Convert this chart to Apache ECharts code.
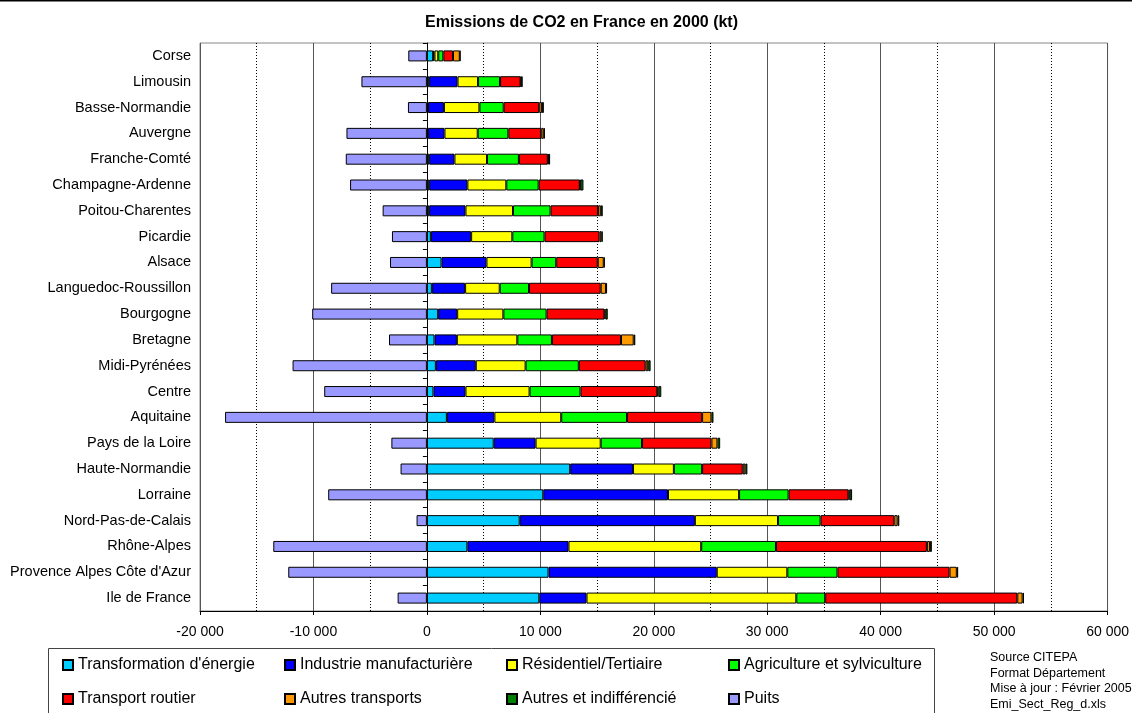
<!DOCTYPE html>
<html>
<head>
<meta charset="utf-8">
<script src="https://cdn.jsdelivr.net/npm/echarts@6/dist/echarts.min.js"></script>
<style>
html,body{margin:0;padding:0;background:#fff;}
#chart{width:1132px;height:713px;}
</style>
</head>
<body>
<div id="chart"></div>
<script>
var categories = ['Corse','Limousin','Basse-Normandie','Auvergne','Franche-Comté','Champagne-Ardenne','Poitou-Charentes','Picardie','Alsace','Languedoc-Roussillon','Bourgogne','Bretagne','Midi-Pyrénées','Centre','Aquitaine','Pays de la Loire','Haute-Normandie','Lorraine','Nord-Pas-de-Calais','Rhône-Alpes',"Provence Alpes Côte d'Azur",'Ile de France'];

var energie      = [550,200,100,80,200,200,200,350,1290,440,990,670,790,580,1760,5890,12630,10260,8180,3570,10720,9910];
var industrie    = [120,2500,1400,1470,2230,3370,3200,3550,3960,2930,1680,1970,3520,2820,4190,3690,5540,10990,15440,8910,14830,4160];
var residentiel  = [330,1810,3130,2930,2870,3430,4190,3630,3980,3050,4070,5330,4390,5650,5890,5740,3600,6270,7330,11700,6220,18490];
var agriculture  = [450,1940,2140,2700,2810,2850,3310,2840,2170,2580,3810,3050,4690,4490,5800,3640,2490,4360,3750,6590,4420,2550];
var transport    = [850,1810,3130,2900,2550,3630,4190,4840,3660,6320,5100,6090,5890,6770,6620,6120,3580,5280,6500,13300,9880,16930];
var autresTransp = [600,60,240,220,80,50,240,170,530,470,90,1120,230,100,820,530,230,100,290,270,640,470];
var autresIndiff = [50,120,170,100,120,270,170,120,90,90,200,140,210,250,180,240,180,220,150,170,120,120];
var puits        = [-1640,-5770,-1670,-7090,-7150,-6770,-3900,-3080,-3250,-8440,-10110,-3340,-11840,-9050,-17790,-3130,-2320,-8700,-910,-13540,-12220,-2580];

var seriesNames = ["Transformation d'énergie","Industrie manufacturière","Résidentiel/Tertiaire","Agriculture et sylviculture","Transport routier","Autres transports","Autres et indifférencié","Puits"];
var seriesColors = ['#00CCFF','#0000FF','#FFFF00','#00FF00','#FF0000','#FF9900','#008000','#9999FF'];
var seriesData = [energie,industrie,residentiel,agriculture,transport,autresTransp,autresIndiff,puits];

var xMin = -20000, xMax = 60000, xInterval = 10000;
var sourceLines = ['Source CITEPA','Format Département','Mise à jour : Février 2005','Emi_Sect_Reg_d.xls'];

var FONT = '"Liberation Sans", Arial, sans-serif';

function fmt(v){
  var s = String(Math.abs(v));
  s = s.replace(/\B(?=(\d{3})+(?!\d))/g, ' ');
  return (v < 0 ? '-' : '') + s;
}

var series = seriesNames.map(function(n,i){
  return {
    name: n, type: 'bar', stack: 'total', yAxisIndex: 0,
    data: seriesData[i], barWidth: 11,
    itemStyle: {color: seriesColors[i], borderColor: '#000', borderWidth: 1},
    emphasis: {disabled: true}
  };
});

var legendCols = [62, 284, 506, 728];
var legendRows = [657, 691];
var legends = seriesNames.map(function(n,i){
  return {
    show: true, orient: 'horizontal',
    left: legendCols[i % 4], top: legendRows[Math.floor(i / 4)],
    padding: 0, itemWidth: 10, itemHeight: 10, icon: 'rect',
    data: [n], selectedMode: false,
    textStyle: {fontFamily: FONT, fontSize: 16, color: '#000', lineHeight: 16}
  };
});

var chart = echarts.init(document.getElementById('chart'), null, {renderer: 'canvas'});
chart.setOption({
  animation: false,
  backgroundColor: '#fff',
  title: {
    text: 'Emissions de CO2 en France en 2000 (kt)',
    left: 425, top: 15, padding: 0,
    textStyle: {fontFamily: FONT, fontSize: 16, fontWeight: 'bold', color: '#000'}
  },
  legend: legends,
  grid: {left: 200, right: 22, top: 43, bottom: 102, show: true, borderColor: '#888', borderWidth: 1, backgroundColor: '#fff'},
  xAxis: {
    type: 'value', min: xMin, max: xMax, interval: xInterval,
    axisLine: {show: true, lineStyle: {color: '#000', width: 1}},
    axisTick: {show: true, length: 4, lineStyle: {color: '#000'}},
    axisLabel: {fontFamily: FONT, fontSize: 14, color: '#000', margin: 14, formatter: fmt},
    splitLine: {show: true, lineStyle: {color: '#555', width: 1}},
    minorTick: {show: false, splitNumber: 2},
    minorSplitLine: {show: true, lineStyle: {color: '#000', type: [1, 2], width: 1}}
  },
  yAxis: [
    {
      type: 'category', data: categories, inverse: true, position: 'left',
      axisLine: {show: false, onZero: false}, axisTick: {show: false},
      axisLabel: {fontFamily: FONT, fontSize: 14.5, color: '#000', margin: 9},
      splitLine: {show: false}
    },
    {
      type: 'category', data: categories, inverse: true, position: 'left',
      axisLine: {show: true, onZero: true, lineStyle: {color: '#000', width: 1}},
      axisTick: {show: true, length: 4, lineStyle: {color: '#000'}},
      axisLabel: {show: false}, splitLine: {show: false}
    }
  ],
  series: series,
  graphic: [
    {type: 'line', shape: {x1: 0, y1: 0.75, x2: 1132, y2: 0.75}, style: {stroke: '#000', lineWidth: 1.5}, silent: true},
    {type: 'rect', shape: {x: 48.5, y: 648.5, width: 886, height: 80}, style: {fill: 'none', stroke: '#444', lineWidth: 1}, silent: true},
    {type: 'text', left: 990, top: 650, silent: true,
     style: {text: sourceLines.join('\n'), font: '12.5px ' + FONT, fill: '#000', lineHeight: 15.5}}
  ]
});
</script>
</body>
</html>
